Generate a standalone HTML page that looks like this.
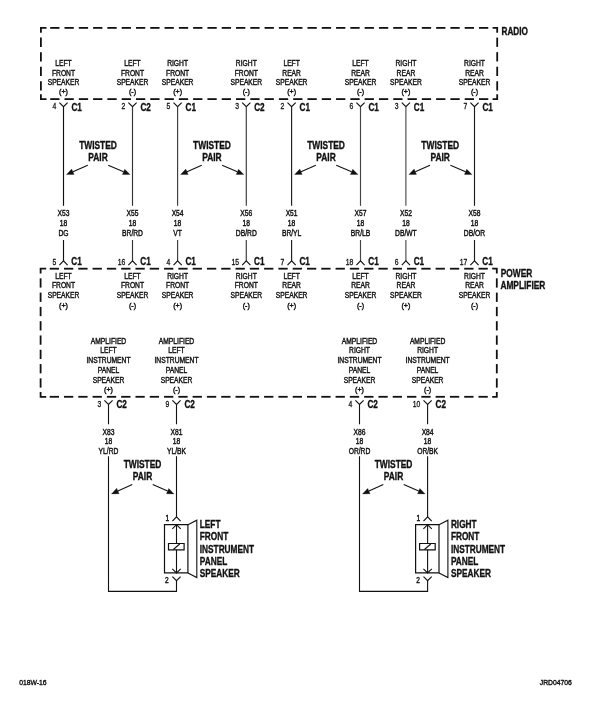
<!DOCTYPE html>
<html><head><meta charset="utf-8"><title>Wiring diagram</title>
<style>
html,body{margin:0;padding:0;background:#fff;}
body{width:609px;height:709px;overflow:hidden;}
svg{display:block;will-change:transform;font-family:"Liberation Sans",sans-serif;}
</style></head><body>
<svg width="609" height="709" viewBox="0 0 609 709">
<rect width="609" height="709" fill="#ffffff"/>
<line x1="50.20" y1="27.90" x2="59.50" y2="27.90" stroke="#111" stroke-width="1.8"/>
<line x1="64.49" y1="27.90" x2="73.79" y2="27.90" stroke="#111" stroke-width="1.8"/>
<line x1="78.79" y1="27.90" x2="88.09" y2="27.90" stroke="#111" stroke-width="1.8"/>
<line x1="93.08" y1="27.90" x2="102.38" y2="27.90" stroke="#111" stroke-width="1.8"/>
<line x1="107.37" y1="27.90" x2="116.67" y2="27.90" stroke="#111" stroke-width="1.8"/>
<line x1="121.67" y1="27.90" x2="130.97" y2="27.90" stroke="#111" stroke-width="1.8"/>
<line x1="135.96" y1="27.90" x2="145.26" y2="27.90" stroke="#111" stroke-width="1.8"/>
<line x1="150.25" y1="27.90" x2="159.55" y2="27.90" stroke="#111" stroke-width="1.8"/>
<line x1="164.54" y1="27.90" x2="173.84" y2="27.90" stroke="#111" stroke-width="1.8"/>
<line x1="178.84" y1="27.90" x2="188.14" y2="27.90" stroke="#111" stroke-width="1.8"/>
<line x1="193.13" y1="27.90" x2="202.43" y2="27.90" stroke="#111" stroke-width="1.8"/>
<line x1="207.42" y1="27.90" x2="216.72" y2="27.90" stroke="#111" stroke-width="1.8"/>
<line x1="221.72" y1="27.90" x2="231.02" y2="27.90" stroke="#111" stroke-width="1.8"/>
<line x1="236.01" y1="27.90" x2="245.31" y2="27.90" stroke="#111" stroke-width="1.8"/>
<line x1="250.30" y1="27.90" x2="259.60" y2="27.90" stroke="#111" stroke-width="1.8"/>
<line x1="264.59" y1="27.90" x2="273.89" y2="27.90" stroke="#111" stroke-width="1.8"/>
<line x1="278.89" y1="27.90" x2="288.19" y2="27.90" stroke="#111" stroke-width="1.8"/>
<line x1="293.18" y1="27.90" x2="302.48" y2="27.90" stroke="#111" stroke-width="1.8"/>
<line x1="307.47" y1="27.90" x2="316.77" y2="27.90" stroke="#111" stroke-width="1.8"/>
<line x1="321.77" y1="27.90" x2="331.07" y2="27.90" stroke="#111" stroke-width="1.8"/>
<line x1="336.06" y1="27.90" x2="345.36" y2="27.90" stroke="#111" stroke-width="1.8"/>
<line x1="350.35" y1="27.90" x2="359.65" y2="27.90" stroke="#111" stroke-width="1.8"/>
<line x1="364.65" y1="27.90" x2="373.95" y2="27.90" stroke="#111" stroke-width="1.8"/>
<line x1="378.94" y1="27.90" x2="388.24" y2="27.90" stroke="#111" stroke-width="1.8"/>
<line x1="393.23" y1="27.90" x2="402.53" y2="27.90" stroke="#111" stroke-width="1.8"/>
<line x1="407.52" y1="27.90" x2="416.82" y2="27.90" stroke="#111" stroke-width="1.8"/>
<line x1="421.82" y1="27.90" x2="431.12" y2="27.90" stroke="#111" stroke-width="1.8"/>
<line x1="436.11" y1="27.90" x2="445.41" y2="27.90" stroke="#111" stroke-width="1.8"/>
<line x1="450.40" y1="27.90" x2="459.70" y2="27.90" stroke="#111" stroke-width="1.8"/>
<line x1="464.70" y1="27.90" x2="474.00" y2="27.90" stroke="#111" stroke-width="1.8"/>
<line x1="478.99" y1="27.90" x2="488.29" y2="27.90" stroke="#111" stroke-width="1.8"/>
<line x1="50.20" y1="99.10" x2="59.50" y2="99.10" stroke="#111" stroke-width="1.8"/>
<line x1="64.49" y1="99.10" x2="73.79" y2="99.10" stroke="#111" stroke-width="1.8"/>
<line x1="78.79" y1="99.10" x2="88.09" y2="99.10" stroke="#111" stroke-width="1.8"/>
<line x1="93.08" y1="99.10" x2="102.38" y2="99.10" stroke="#111" stroke-width="1.8"/>
<line x1="107.37" y1="99.10" x2="116.67" y2="99.10" stroke="#111" stroke-width="1.8"/>
<line x1="121.67" y1="99.10" x2="130.97" y2="99.10" stroke="#111" stroke-width="1.8"/>
<line x1="135.96" y1="99.10" x2="145.26" y2="99.10" stroke="#111" stroke-width="1.8"/>
<line x1="150.25" y1="99.10" x2="159.55" y2="99.10" stroke="#111" stroke-width="1.8"/>
<line x1="164.54" y1="99.10" x2="173.84" y2="99.10" stroke="#111" stroke-width="1.8"/>
<line x1="178.84" y1="99.10" x2="188.14" y2="99.10" stroke="#111" stroke-width="1.8"/>
<line x1="193.13" y1="99.10" x2="202.43" y2="99.10" stroke="#111" stroke-width="1.8"/>
<line x1="207.42" y1="99.10" x2="216.72" y2="99.10" stroke="#111" stroke-width="1.8"/>
<line x1="221.72" y1="99.10" x2="231.02" y2="99.10" stroke="#111" stroke-width="1.8"/>
<line x1="236.01" y1="99.10" x2="245.31" y2="99.10" stroke="#111" stroke-width="1.8"/>
<line x1="250.30" y1="99.10" x2="259.60" y2="99.10" stroke="#111" stroke-width="1.8"/>
<line x1="264.59" y1="99.10" x2="273.89" y2="99.10" stroke="#111" stroke-width="1.8"/>
<line x1="278.89" y1="99.10" x2="288.19" y2="99.10" stroke="#111" stroke-width="1.8"/>
<line x1="293.18" y1="99.10" x2="302.48" y2="99.10" stroke="#111" stroke-width="1.8"/>
<line x1="307.47" y1="99.10" x2="316.77" y2="99.10" stroke="#111" stroke-width="1.8"/>
<line x1="321.77" y1="99.10" x2="331.07" y2="99.10" stroke="#111" stroke-width="1.8"/>
<line x1="336.06" y1="99.10" x2="345.36" y2="99.10" stroke="#111" stroke-width="1.8"/>
<line x1="350.35" y1="99.10" x2="359.65" y2="99.10" stroke="#111" stroke-width="1.8"/>
<line x1="364.65" y1="99.10" x2="373.95" y2="99.10" stroke="#111" stroke-width="1.8"/>
<line x1="378.94" y1="99.10" x2="388.24" y2="99.10" stroke="#111" stroke-width="1.8"/>
<line x1="393.23" y1="99.10" x2="402.53" y2="99.10" stroke="#111" stroke-width="1.8"/>
<line x1="407.52" y1="99.10" x2="416.82" y2="99.10" stroke="#111" stroke-width="1.8"/>
<line x1="421.82" y1="99.10" x2="431.12" y2="99.10" stroke="#111" stroke-width="1.8"/>
<line x1="436.11" y1="99.10" x2="445.41" y2="99.10" stroke="#111" stroke-width="1.8"/>
<line x1="450.40" y1="99.10" x2="459.70" y2="99.10" stroke="#111" stroke-width="1.8"/>
<line x1="464.70" y1="99.10" x2="474.00" y2="99.10" stroke="#111" stroke-width="1.8"/>
<line x1="478.99" y1="99.10" x2="488.29" y2="99.10" stroke="#111" stroke-width="1.8"/>
<line x1="40.90" y1="37.60" x2="40.90" y2="46.90" stroke="#111" stroke-width="1.8"/>
<line x1="40.90" y1="52.15" x2="40.90" y2="61.45" stroke="#111" stroke-width="1.8"/>
<line x1="40.90" y1="66.70" x2="40.90" y2="76.00" stroke="#111" stroke-width="1.8"/>
<line x1="40.90" y1="81.25" x2="40.90" y2="90.55" stroke="#111" stroke-width="1.8"/>
<line x1="497.20" y1="37.60" x2="497.20" y2="46.90" stroke="#111" stroke-width="1.8"/>
<line x1="497.20" y1="52.15" x2="497.20" y2="61.45" stroke="#111" stroke-width="1.8"/>
<line x1="497.20" y1="66.70" x2="497.20" y2="76.00" stroke="#111" stroke-width="1.8"/>
<line x1="497.20" y1="81.25" x2="497.20" y2="90.55" stroke="#111" stroke-width="1.8"/>
<path d="M40.9,32.699999999999996 V27.9 H46.5" stroke="#111" stroke-width="1.8" fill="none" stroke-linejoin="miter"/>
<path d="M497.2,32.699999999999996 V27.9 H492.59999999999997" stroke="#111" stroke-width="1.8" fill="none" />
<path d="M40.9,94.3 V99.1 H46.5" stroke="#111" stroke-width="1.8" fill="none" />
<path d="M497.2,94.3 V99.1 H492.59999999999997" stroke="#111" stroke-width="1.8" fill="none" />
<line x1="49.70" y1="268.70" x2="59.00" y2="268.70" stroke="#111" stroke-width="1.8"/>
<line x1="63.99" y1="268.70" x2="73.29" y2="268.70" stroke="#111" stroke-width="1.8"/>
<line x1="78.29" y1="268.70" x2="87.59" y2="268.70" stroke="#111" stroke-width="1.8"/>
<line x1="92.58" y1="268.70" x2="101.88" y2="268.70" stroke="#111" stroke-width="1.8"/>
<line x1="106.87" y1="268.70" x2="116.17" y2="268.70" stroke="#111" stroke-width="1.8"/>
<line x1="121.17" y1="268.70" x2="130.47" y2="268.70" stroke="#111" stroke-width="1.8"/>
<line x1="135.46" y1="268.70" x2="144.76" y2="268.70" stroke="#111" stroke-width="1.8"/>
<line x1="149.75" y1="268.70" x2="159.05" y2="268.70" stroke="#111" stroke-width="1.8"/>
<line x1="164.04" y1="268.70" x2="173.34" y2="268.70" stroke="#111" stroke-width="1.8"/>
<line x1="178.34" y1="268.70" x2="187.64" y2="268.70" stroke="#111" stroke-width="1.8"/>
<line x1="192.63" y1="268.70" x2="201.93" y2="268.70" stroke="#111" stroke-width="1.8"/>
<line x1="206.92" y1="268.70" x2="216.22" y2="268.70" stroke="#111" stroke-width="1.8"/>
<line x1="221.22" y1="268.70" x2="230.52" y2="268.70" stroke="#111" stroke-width="1.8"/>
<line x1="235.51" y1="268.70" x2="244.81" y2="268.70" stroke="#111" stroke-width="1.8"/>
<line x1="249.80" y1="268.70" x2="259.10" y2="268.70" stroke="#111" stroke-width="1.8"/>
<line x1="264.09" y1="268.70" x2="273.39" y2="268.70" stroke="#111" stroke-width="1.8"/>
<line x1="278.39" y1="268.70" x2="287.69" y2="268.70" stroke="#111" stroke-width="1.8"/>
<line x1="292.68" y1="268.70" x2="301.98" y2="268.70" stroke="#111" stroke-width="1.8"/>
<line x1="306.97" y1="268.70" x2="316.27" y2="268.70" stroke="#111" stroke-width="1.8"/>
<line x1="321.27" y1="268.70" x2="330.57" y2="268.70" stroke="#111" stroke-width="1.8"/>
<line x1="335.56" y1="268.70" x2="344.86" y2="268.70" stroke="#111" stroke-width="1.8"/>
<line x1="349.85" y1="268.70" x2="359.15" y2="268.70" stroke="#111" stroke-width="1.8"/>
<line x1="364.15" y1="268.70" x2="373.45" y2="268.70" stroke="#111" stroke-width="1.8"/>
<line x1="378.44" y1="268.70" x2="387.74" y2="268.70" stroke="#111" stroke-width="1.8"/>
<line x1="392.73" y1="268.70" x2="402.03" y2="268.70" stroke="#111" stroke-width="1.8"/>
<line x1="407.02" y1="268.70" x2="416.32" y2="268.70" stroke="#111" stroke-width="1.8"/>
<line x1="421.32" y1="268.70" x2="430.62" y2="268.70" stroke="#111" stroke-width="1.8"/>
<line x1="435.61" y1="268.70" x2="444.91" y2="268.70" stroke="#111" stroke-width="1.8"/>
<line x1="449.90" y1="268.70" x2="459.20" y2="268.70" stroke="#111" stroke-width="1.8"/>
<line x1="464.20" y1="268.70" x2="473.50" y2="268.70" stroke="#111" stroke-width="1.8"/>
<line x1="478.49" y1="268.70" x2="487.79" y2="268.70" stroke="#111" stroke-width="1.8"/>
<line x1="49.70" y1="396.80" x2="59.00" y2="396.80" stroke="#111" stroke-width="1.8"/>
<line x1="63.99" y1="396.80" x2="73.29" y2="396.80" stroke="#111" stroke-width="1.8"/>
<line x1="78.29" y1="396.80" x2="87.59" y2="396.80" stroke="#111" stroke-width="1.8"/>
<line x1="92.58" y1="396.80" x2="101.88" y2="396.80" stroke="#111" stroke-width="1.8"/>
<line x1="106.87" y1="396.80" x2="116.17" y2="396.80" stroke="#111" stroke-width="1.8"/>
<line x1="121.17" y1="396.80" x2="130.47" y2="396.80" stroke="#111" stroke-width="1.8"/>
<line x1="135.46" y1="396.80" x2="144.76" y2="396.80" stroke="#111" stroke-width="1.8"/>
<line x1="149.75" y1="396.80" x2="159.05" y2="396.80" stroke="#111" stroke-width="1.8"/>
<line x1="164.04" y1="396.80" x2="173.34" y2="396.80" stroke="#111" stroke-width="1.8"/>
<line x1="178.34" y1="396.80" x2="187.64" y2="396.80" stroke="#111" stroke-width="1.8"/>
<line x1="192.63" y1="396.80" x2="201.93" y2="396.80" stroke="#111" stroke-width="1.8"/>
<line x1="206.92" y1="396.80" x2="216.22" y2="396.80" stroke="#111" stroke-width="1.8"/>
<line x1="221.22" y1="396.80" x2="230.52" y2="396.80" stroke="#111" stroke-width="1.8"/>
<line x1="235.51" y1="396.80" x2="244.81" y2="396.80" stroke="#111" stroke-width="1.8"/>
<line x1="249.80" y1="396.80" x2="259.10" y2="396.80" stroke="#111" stroke-width="1.8"/>
<line x1="264.09" y1="396.80" x2="273.39" y2="396.80" stroke="#111" stroke-width="1.8"/>
<line x1="278.39" y1="396.80" x2="287.69" y2="396.80" stroke="#111" stroke-width="1.8"/>
<line x1="292.68" y1="396.80" x2="301.98" y2="396.80" stroke="#111" stroke-width="1.8"/>
<line x1="306.97" y1="396.80" x2="316.27" y2="396.80" stroke="#111" stroke-width="1.8"/>
<line x1="321.27" y1="396.80" x2="330.57" y2="396.80" stroke="#111" stroke-width="1.8"/>
<line x1="335.56" y1="396.80" x2="344.86" y2="396.80" stroke="#111" stroke-width="1.8"/>
<line x1="349.85" y1="396.80" x2="359.15" y2="396.80" stroke="#111" stroke-width="1.8"/>
<line x1="364.15" y1="396.80" x2="373.45" y2="396.80" stroke="#111" stroke-width="1.8"/>
<line x1="378.44" y1="396.80" x2="387.74" y2="396.80" stroke="#111" stroke-width="1.8"/>
<line x1="392.73" y1="396.80" x2="402.03" y2="396.80" stroke="#111" stroke-width="1.8"/>
<line x1="407.02" y1="396.80" x2="416.32" y2="396.80" stroke="#111" stroke-width="1.8"/>
<line x1="421.32" y1="396.80" x2="430.62" y2="396.80" stroke="#111" stroke-width="1.8"/>
<line x1="435.61" y1="396.80" x2="444.91" y2="396.80" stroke="#111" stroke-width="1.8"/>
<line x1="449.90" y1="396.80" x2="459.20" y2="396.80" stroke="#111" stroke-width="1.8"/>
<line x1="464.20" y1="396.80" x2="473.50" y2="396.80" stroke="#111" stroke-width="1.8"/>
<line x1="478.49" y1="396.80" x2="487.79" y2="396.80" stroke="#111" stroke-width="1.8"/>
<line x1="40.60" y1="278.30" x2="40.60" y2="287.60" stroke="#111" stroke-width="1.8"/>
<line x1="40.60" y1="292.59" x2="40.60" y2="301.89" stroke="#111" stroke-width="1.8"/>
<line x1="40.60" y1="306.88" x2="40.60" y2="316.18" stroke="#111" stroke-width="1.8"/>
<line x1="40.60" y1="321.17" x2="40.60" y2="330.47" stroke="#111" stroke-width="1.8"/>
<line x1="40.60" y1="335.46" x2="40.60" y2="344.76" stroke="#111" stroke-width="1.8"/>
<line x1="40.60" y1="349.75" x2="40.60" y2="359.05" stroke="#111" stroke-width="1.8"/>
<line x1="40.60" y1="364.04" x2="40.60" y2="373.34" stroke="#111" stroke-width="1.8"/>
<line x1="40.60" y1="378.33" x2="40.60" y2="387.63" stroke="#111" stroke-width="1.8"/>
<line x1="496.80" y1="278.30" x2="496.80" y2="287.60" stroke="#111" stroke-width="1.8"/>
<line x1="496.80" y1="292.59" x2="496.80" y2="301.89" stroke="#111" stroke-width="1.8"/>
<line x1="496.80" y1="306.88" x2="496.80" y2="316.18" stroke="#111" stroke-width="1.8"/>
<line x1="496.80" y1="321.17" x2="496.80" y2="330.47" stroke="#111" stroke-width="1.8"/>
<line x1="496.80" y1="335.46" x2="496.80" y2="344.76" stroke="#111" stroke-width="1.8"/>
<line x1="496.80" y1="349.75" x2="496.80" y2="359.05" stroke="#111" stroke-width="1.8"/>
<line x1="496.80" y1="364.04" x2="496.80" y2="373.34" stroke="#111" stroke-width="1.8"/>
<line x1="496.80" y1="378.33" x2="496.80" y2="387.63" stroke="#111" stroke-width="1.8"/>
<path d="M40.6,273.5 V268.7 H46.2" stroke="#111" stroke-width="1.8" fill="none" stroke-linejoin="miter"/>
<path d="M496.8,273.5 V268.7 H492.2" stroke="#111" stroke-width="1.8" fill="none" />
<path d="M40.6,392.0 V396.8 H46.2" stroke="#111" stroke-width="1.8" fill="none" />
<path d="M496.8,392.0 V396.8 H492.2" stroke="#111" stroke-width="1.8" fill="none" />
<text transform="translate(501.50,35.00) scale(0.795,1)" font-size="10.3" text-anchor="start" font-weight="bold" fill="#111" stroke="#111" stroke-width="0.34">RADIO</text>
<text transform="translate(500.80,276.70) scale(0.81,1)" font-size="10.3" text-anchor="start" font-weight="bold" fill="#111" stroke="#111" stroke-width="0.34">POWER</text>
<text transform="translate(500.40,288.90) scale(0.81,1)" font-size="10.3" text-anchor="start" font-weight="bold" fill="#111" stroke="#111" stroke-width="0.34">AMPLIFIER</text>
<text transform="translate(63.50,66.00) scale(0.8,1)" font-size="8.4" text-anchor="middle" fill="#111" stroke="#111" stroke-width="0.42">LEFT</text>
<text transform="translate(63.50,75.50) scale(0.8,1)" font-size="8.4" text-anchor="middle" fill="#111" stroke="#111" stroke-width="0.42">FRONT</text>
<text transform="translate(63.50,85.10) scale(0.8,1)" font-size="8.4" text-anchor="middle" fill="#111" stroke="#111" stroke-width="0.42">SPEAKER</text>
<text transform="translate(63.50,94.00) scale(0.92,1)" font-size="7.8" text-anchor="middle" fill="#111" stroke="#111" stroke-width="0.42">(+)</text>
<path d="M59.4,102.6 L63.5,106.6 L67.6,102.6" stroke="#111" stroke-width="1.15" fill="none" />
<line x1="63.50" y1="106.60" x2="63.50" y2="205.80" stroke="#111" stroke-width="1.15"/>
<text transform="translate(56.20,108.90) scale(0.8,1)" font-size="8.5" text-anchor="end" fill="#111" stroke="#111" stroke-width="0.3">4</text>
<text transform="translate(71.40,110.80) scale(0.795,1)" font-size="10.3" text-anchor="start" font-weight="bold" fill="#111" stroke="#111" stroke-width="0.34">C1</text>
<text transform="translate(63.50,215.80) scale(0.8,1)" font-size="8.4" text-anchor="middle" fill="#111" stroke="#111" stroke-width="0.42">X53</text>
<text transform="translate(63.50,225.80) scale(0.8,1)" font-size="8.4" text-anchor="middle" fill="#111" stroke="#111" stroke-width="0.42">18</text>
<text transform="translate(63.50,235.70) scale(0.8,1)" font-size="8.4" text-anchor="middle" fill="#111" stroke="#111" stroke-width="0.42">DG</text>
<line x1="63.50" y1="240.00" x2="63.50" y2="260.90" stroke="#111" stroke-width="1.15"/>
<path d="M59.4,265.09999999999997 L63.5,260.9 L67.6,265.09999999999997" stroke="#111" stroke-width="1.15" fill="none" />
<text transform="translate(56.20,264.70) scale(0.8,1)" font-size="8.5" text-anchor="end" fill="#111" stroke="#111" stroke-width="0.3">5</text>
<text transform="translate(71.30,264.90) scale(0.795,1)" font-size="10.3" text-anchor="start" font-weight="bold" fill="#111" stroke="#111" stroke-width="0.34">C1</text>
<text transform="translate(63.50,278.50) scale(0.8,1)" font-size="8.4" text-anchor="middle" fill="#111" stroke="#111" stroke-width="0.42">LEFT</text>
<text transform="translate(63.50,288.00) scale(0.8,1)" font-size="8.4" text-anchor="middle" fill="#111" stroke="#111" stroke-width="0.42">FRONT</text>
<text transform="translate(63.50,297.60) scale(0.8,1)" font-size="8.4" text-anchor="middle" fill="#111" stroke="#111" stroke-width="0.42">SPEAKER</text>
<text transform="translate(63.50,308.00) scale(0.92,1)" font-size="7.8" text-anchor="middle" fill="#111" stroke="#111" stroke-width="0.42">(+)</text>
<text transform="translate(132.50,66.00) scale(0.8,1)" font-size="8.4" text-anchor="middle" fill="#111" stroke="#111" stroke-width="0.42">LEFT</text>
<text transform="translate(132.50,75.50) scale(0.8,1)" font-size="8.4" text-anchor="middle" fill="#111" stroke="#111" stroke-width="0.42">FRONT</text>
<text transform="translate(132.50,85.10) scale(0.8,1)" font-size="8.4" text-anchor="middle" fill="#111" stroke="#111" stroke-width="0.42">SPEAKER</text>
<text transform="translate(132.50,94.00) scale(0.92,1)" font-size="7.8" text-anchor="middle" fill="#111" stroke="#111" stroke-width="0.42">(-)</text>
<path d="M128.4,102.6 L132.5,106.6 L136.6,102.6" stroke="#111" stroke-width="1.15" fill="none" />
<line x1="132.50" y1="106.60" x2="132.50" y2="205.80" stroke="#333" stroke-width="1.15"/>
<text transform="translate(125.20,108.90) scale(0.8,1)" font-size="8.5" text-anchor="end" fill="#111" stroke="#111" stroke-width="0.3">2</text>
<text transform="translate(140.40,110.80) scale(0.795,1)" font-size="10.3" text-anchor="start" font-weight="bold" fill="#111" stroke="#111" stroke-width="0.34">C2</text>
<text transform="translate(132.50,215.80) scale(0.8,1)" font-size="8.4" text-anchor="middle" fill="#111" stroke="#111" stroke-width="0.42">X55</text>
<text transform="translate(132.50,225.80) scale(0.8,1)" font-size="8.4" text-anchor="middle" fill="#111" stroke="#111" stroke-width="0.42">18</text>
<text transform="translate(132.50,235.70) scale(0.8,1)" font-size="8.4" text-anchor="middle" fill="#111" stroke="#111" stroke-width="0.42">BR/RD</text>
<line x1="132.50" y1="240.00" x2="132.50" y2="260.90" stroke="#333" stroke-width="1.15"/>
<path d="M128.4,265.09999999999997 L132.5,260.9 L136.6,265.09999999999997" stroke="#111" stroke-width="1.15" fill="none" />
<text transform="translate(125.20,264.70) scale(0.8,1)" font-size="8.5" text-anchor="end" fill="#111" stroke="#111" stroke-width="0.3">16</text>
<text transform="translate(140.30,264.90) scale(0.795,1)" font-size="10.3" text-anchor="start" font-weight="bold" fill="#111" stroke="#111" stroke-width="0.34">C1</text>
<text transform="translate(132.50,278.50) scale(0.8,1)" font-size="8.4" text-anchor="middle" fill="#111" stroke="#111" stroke-width="0.42">LEFT</text>
<text transform="translate(132.50,288.00) scale(0.8,1)" font-size="8.4" text-anchor="middle" fill="#111" stroke="#111" stroke-width="0.42">FRONT</text>
<text transform="translate(132.50,297.60) scale(0.8,1)" font-size="8.4" text-anchor="middle" fill="#111" stroke="#111" stroke-width="0.42">SPEAKER</text>
<text transform="translate(132.50,308.00) scale(0.92,1)" font-size="7.8" text-anchor="middle" fill="#111" stroke="#111" stroke-width="0.42">(-)</text>
<text transform="translate(177.60,66.00) scale(0.8,1)" font-size="8.4" text-anchor="middle" fill="#111" stroke="#111" stroke-width="0.42">RIGHT</text>
<text transform="translate(177.60,75.50) scale(0.8,1)" font-size="8.4" text-anchor="middle" fill="#111" stroke="#111" stroke-width="0.42">FRONT</text>
<text transform="translate(177.60,85.10) scale(0.8,1)" font-size="8.4" text-anchor="middle" fill="#111" stroke="#111" stroke-width="0.42">SPEAKER</text>
<text transform="translate(177.60,94.00) scale(0.92,1)" font-size="7.8" text-anchor="middle" fill="#111" stroke="#111" stroke-width="0.42">(+)</text>
<path d="M173.5,102.6 L177.6,106.6 L181.7,102.6" stroke="#111" stroke-width="1.15" fill="none" />
<line x1="177.60" y1="106.60" x2="177.60" y2="205.80" stroke="#3a3a3a" stroke-width="1.15"/>
<text transform="translate(170.30,108.90) scale(0.8,1)" font-size="8.5" text-anchor="end" fill="#111" stroke="#111" stroke-width="0.3">5</text>
<text transform="translate(185.50,110.80) scale(0.795,1)" font-size="10.3" text-anchor="start" font-weight="bold" fill="#111" stroke="#111" stroke-width="0.34">C1</text>
<text transform="translate(177.60,215.80) scale(0.8,1)" font-size="8.4" text-anchor="middle" fill="#111" stroke="#111" stroke-width="0.42">X54</text>
<text transform="translate(177.60,225.80) scale(0.8,1)" font-size="8.4" text-anchor="middle" fill="#111" stroke="#111" stroke-width="0.42">18</text>
<text transform="translate(177.60,235.70) scale(0.8,1)" font-size="8.4" text-anchor="middle" fill="#111" stroke="#111" stroke-width="0.42">VT</text>
<line x1="177.60" y1="240.00" x2="177.60" y2="260.90" stroke="#3a3a3a" stroke-width="1.15"/>
<path d="M173.5,265.09999999999997 L177.6,260.9 L181.7,265.09999999999997" stroke="#111" stroke-width="1.15" fill="none" />
<text transform="translate(170.30,264.70) scale(0.8,1)" font-size="8.5" text-anchor="end" fill="#111" stroke="#111" stroke-width="0.3">4</text>
<text transform="translate(185.40,264.90) scale(0.795,1)" font-size="10.3" text-anchor="start" font-weight="bold" fill="#111" stroke="#111" stroke-width="0.34">C1</text>
<text transform="translate(177.60,278.50) scale(0.8,1)" font-size="8.4" text-anchor="middle" fill="#111" stroke="#111" stroke-width="0.42">RIGHT</text>
<text transform="translate(177.60,288.00) scale(0.8,1)" font-size="8.4" text-anchor="middle" fill="#111" stroke="#111" stroke-width="0.42">FRONT</text>
<text transform="translate(177.60,297.60) scale(0.8,1)" font-size="8.4" text-anchor="middle" fill="#111" stroke="#111" stroke-width="0.42">SPEAKER</text>
<text transform="translate(177.60,308.00) scale(0.92,1)" font-size="7.8" text-anchor="middle" fill="#111" stroke="#111" stroke-width="0.42">(+)</text>
<text transform="translate(246.30,66.00) scale(0.8,1)" font-size="8.4" text-anchor="middle" fill="#111" stroke="#111" stroke-width="0.42">RIGHT</text>
<text transform="translate(246.30,75.50) scale(0.8,1)" font-size="8.4" text-anchor="middle" fill="#111" stroke="#111" stroke-width="0.42">FRONT</text>
<text transform="translate(246.30,85.10) scale(0.8,1)" font-size="8.4" text-anchor="middle" fill="#111" stroke="#111" stroke-width="0.42">SPEAKER</text>
<text transform="translate(246.30,94.00) scale(0.92,1)" font-size="7.8" text-anchor="middle" fill="#111" stroke="#111" stroke-width="0.42">(-)</text>
<path d="M242.20000000000002,102.6 L246.3,106.6 L250.4,102.6" stroke="#111" stroke-width="1.15" fill="none" />
<line x1="246.30" y1="106.60" x2="246.30" y2="205.80" stroke="#3a3a3a" stroke-width="1.15"/>
<text transform="translate(239.00,108.90) scale(0.8,1)" font-size="8.5" text-anchor="end" fill="#111" stroke="#111" stroke-width="0.3">3</text>
<text transform="translate(254.20,110.80) scale(0.795,1)" font-size="10.3" text-anchor="start" font-weight="bold" fill="#111" stroke="#111" stroke-width="0.34">C2</text>
<text transform="translate(246.30,215.80) scale(0.8,1)" font-size="8.4" text-anchor="middle" fill="#111" stroke="#111" stroke-width="0.42">X56</text>
<text transform="translate(246.30,225.80) scale(0.8,1)" font-size="8.4" text-anchor="middle" fill="#111" stroke="#111" stroke-width="0.42">18</text>
<text transform="translate(246.30,235.70) scale(0.8,1)" font-size="8.4" text-anchor="middle" fill="#111" stroke="#111" stroke-width="0.42">DB/RD</text>
<line x1="246.30" y1="240.00" x2="246.30" y2="260.90" stroke="#3a3a3a" stroke-width="1.15"/>
<path d="M242.20000000000002,265.09999999999997 L246.3,260.9 L250.4,265.09999999999997" stroke="#111" stroke-width="1.15" fill="none" />
<text transform="translate(239.00,264.70) scale(0.8,1)" font-size="8.5" text-anchor="end" fill="#111" stroke="#111" stroke-width="0.3">15</text>
<text transform="translate(254.10,264.90) scale(0.795,1)" font-size="10.3" text-anchor="start" font-weight="bold" fill="#111" stroke="#111" stroke-width="0.34">C1</text>
<text transform="translate(246.30,278.50) scale(0.8,1)" font-size="8.4" text-anchor="middle" fill="#111" stroke="#111" stroke-width="0.42">RIGHT</text>
<text transform="translate(246.30,288.00) scale(0.8,1)" font-size="8.4" text-anchor="middle" fill="#111" stroke="#111" stroke-width="0.42">FRONT</text>
<text transform="translate(246.30,297.60) scale(0.8,1)" font-size="8.4" text-anchor="middle" fill="#111" stroke="#111" stroke-width="0.42">SPEAKER</text>
<text transform="translate(246.30,308.00) scale(0.92,1)" font-size="7.8" text-anchor="middle" fill="#111" stroke="#111" stroke-width="0.42">(-)</text>
<text transform="translate(291.60,66.00) scale(0.8,1)" font-size="8.4" text-anchor="middle" fill="#111" stroke="#111" stroke-width="0.42">LEFT</text>
<text transform="translate(291.60,75.50) scale(0.8,1)" font-size="8.4" text-anchor="middle" fill="#111" stroke="#111" stroke-width="0.42">REAR</text>
<text transform="translate(291.60,85.10) scale(0.8,1)" font-size="8.4" text-anchor="middle" fill="#111" stroke="#111" stroke-width="0.42">SPEAKER</text>
<text transform="translate(291.60,94.00) scale(0.92,1)" font-size="7.8" text-anchor="middle" fill="#111" stroke="#111" stroke-width="0.42">(+)</text>
<path d="M287.5,102.6 L291.6,106.6 L295.70000000000005,102.6" stroke="#111" stroke-width="1.15" fill="none" />
<line x1="291.60" y1="106.60" x2="291.60" y2="205.80" stroke="#1c1c1c" stroke-width="1.15"/>
<text transform="translate(284.30,108.90) scale(0.8,1)" font-size="8.5" text-anchor="end" fill="#111" stroke="#111" stroke-width="0.3">2</text>
<text transform="translate(299.50,110.80) scale(0.795,1)" font-size="10.3" text-anchor="start" font-weight="bold" fill="#111" stroke="#111" stroke-width="0.34">C1</text>
<text transform="translate(291.60,215.80) scale(0.8,1)" font-size="8.4" text-anchor="middle" fill="#111" stroke="#111" stroke-width="0.42">X51</text>
<text transform="translate(291.60,225.80) scale(0.8,1)" font-size="8.4" text-anchor="middle" fill="#111" stroke="#111" stroke-width="0.42">18</text>
<text transform="translate(291.60,235.70) scale(0.8,1)" font-size="8.4" text-anchor="middle" fill="#111" stroke="#111" stroke-width="0.42">BR/YL</text>
<line x1="291.60" y1="240.00" x2="291.60" y2="260.90" stroke="#1c1c1c" stroke-width="1.15"/>
<path d="M287.5,265.09999999999997 L291.6,260.9 L295.70000000000005,265.09999999999997" stroke="#111" stroke-width="1.15" fill="none" />
<text transform="translate(284.30,264.70) scale(0.8,1)" font-size="8.5" text-anchor="end" fill="#111" stroke="#111" stroke-width="0.3">7</text>
<text transform="translate(299.40,264.90) scale(0.795,1)" font-size="10.3" text-anchor="start" font-weight="bold" fill="#111" stroke="#111" stroke-width="0.34">C1</text>
<text transform="translate(291.60,278.50) scale(0.8,1)" font-size="8.4" text-anchor="middle" fill="#111" stroke="#111" stroke-width="0.42">LEFT</text>
<text transform="translate(291.60,288.00) scale(0.8,1)" font-size="8.4" text-anchor="middle" fill="#111" stroke="#111" stroke-width="0.42">REAR</text>
<text transform="translate(291.60,297.60) scale(0.8,1)" font-size="8.4" text-anchor="middle" fill="#111" stroke="#111" stroke-width="0.42">SPEAKER</text>
<text transform="translate(291.60,308.00) scale(0.92,1)" font-size="7.8" text-anchor="middle" fill="#111" stroke="#111" stroke-width="0.42">(+)</text>
<text transform="translate(360.50,66.00) scale(0.8,1)" font-size="8.4" text-anchor="middle" fill="#111" stroke="#111" stroke-width="0.42">LEFT</text>
<text transform="translate(360.50,75.50) scale(0.8,1)" font-size="8.4" text-anchor="middle" fill="#111" stroke="#111" stroke-width="0.42">REAR</text>
<text transform="translate(360.50,85.10) scale(0.8,1)" font-size="8.4" text-anchor="middle" fill="#111" stroke="#111" stroke-width="0.42">SPEAKER</text>
<text transform="translate(360.50,94.00) scale(0.92,1)" font-size="7.8" text-anchor="middle" fill="#111" stroke="#111" stroke-width="0.42">(-)</text>
<path d="M356.4,102.6 L360.5,106.6 L364.6,102.6" stroke="#111" stroke-width="1.15" fill="none" />
<line x1="360.50" y1="106.60" x2="360.50" y2="205.80" stroke="#444" stroke-width="1.15"/>
<text transform="translate(353.20,108.90) scale(0.8,1)" font-size="8.5" text-anchor="end" fill="#111" stroke="#111" stroke-width="0.3">6</text>
<text transform="translate(368.40,110.80) scale(0.795,1)" font-size="10.3" text-anchor="start" font-weight="bold" fill="#111" stroke="#111" stroke-width="0.34">C1</text>
<text transform="translate(360.50,215.80) scale(0.8,1)" font-size="8.4" text-anchor="middle" fill="#111" stroke="#111" stroke-width="0.42">X57</text>
<text transform="translate(360.50,225.80) scale(0.8,1)" font-size="8.4" text-anchor="middle" fill="#111" stroke="#111" stroke-width="0.42">18</text>
<text transform="translate(360.50,235.70) scale(0.8,1)" font-size="8.4" text-anchor="middle" fill="#111" stroke="#111" stroke-width="0.42">BR/LB</text>
<line x1="360.50" y1="240.00" x2="360.50" y2="260.90" stroke="#444" stroke-width="1.15"/>
<path d="M356.4,265.09999999999997 L360.5,260.9 L364.6,265.09999999999997" stroke="#111" stroke-width="1.15" fill="none" />
<text transform="translate(353.20,264.70) scale(0.8,1)" font-size="8.5" text-anchor="end" fill="#111" stroke="#111" stroke-width="0.3">18</text>
<text transform="translate(368.30,264.90) scale(0.795,1)" font-size="10.3" text-anchor="start" font-weight="bold" fill="#111" stroke="#111" stroke-width="0.34">C1</text>
<text transform="translate(360.50,278.50) scale(0.8,1)" font-size="8.4" text-anchor="middle" fill="#111" stroke="#111" stroke-width="0.42">LEFT</text>
<text transform="translate(360.50,288.00) scale(0.8,1)" font-size="8.4" text-anchor="middle" fill="#111" stroke="#111" stroke-width="0.42">REAR</text>
<text transform="translate(360.50,297.60) scale(0.8,1)" font-size="8.4" text-anchor="middle" fill="#111" stroke="#111" stroke-width="0.42">SPEAKER</text>
<text transform="translate(360.50,308.00) scale(0.92,1)" font-size="7.8" text-anchor="middle" fill="#111" stroke="#111" stroke-width="0.42">(-)</text>
<text transform="translate(405.90,66.00) scale(0.8,1)" font-size="8.4" text-anchor="middle" fill="#111" stroke="#111" stroke-width="0.42">RIGHT</text>
<text transform="translate(405.90,75.50) scale(0.8,1)" font-size="8.4" text-anchor="middle" fill="#111" stroke="#111" stroke-width="0.42">REAR</text>
<text transform="translate(405.90,85.10) scale(0.8,1)" font-size="8.4" text-anchor="middle" fill="#111" stroke="#111" stroke-width="0.42">SPEAKER</text>
<text transform="translate(405.90,94.00) scale(0.92,1)" font-size="7.8" text-anchor="middle" fill="#111" stroke="#111" stroke-width="0.42">(+)</text>
<path d="M401.79999999999995,102.6 L405.9,106.6 L410.0,102.6" stroke="#111" stroke-width="1.15" fill="none" />
<line x1="405.90" y1="106.60" x2="405.90" y2="205.80" stroke="#4a4a4a" stroke-width="1.15"/>
<text transform="translate(398.60,108.90) scale(0.8,1)" font-size="8.5" text-anchor="end" fill="#111" stroke="#111" stroke-width="0.3">3</text>
<text transform="translate(413.80,110.80) scale(0.795,1)" font-size="10.3" text-anchor="start" font-weight="bold" fill="#111" stroke="#111" stroke-width="0.34">C1</text>
<text transform="translate(405.90,215.80) scale(0.8,1)" font-size="8.4" text-anchor="middle" fill="#111" stroke="#111" stroke-width="0.42">X52</text>
<text transform="translate(405.90,225.80) scale(0.8,1)" font-size="8.4" text-anchor="middle" fill="#111" stroke="#111" stroke-width="0.42">18</text>
<text transform="translate(405.90,235.70) scale(0.8,1)" font-size="8.4" text-anchor="middle" fill="#111" stroke="#111" stroke-width="0.42">DB/WT</text>
<line x1="405.90" y1="240.00" x2="405.90" y2="260.90" stroke="#4a4a4a" stroke-width="1.15"/>
<path d="M401.79999999999995,265.09999999999997 L405.9,260.9 L410.0,265.09999999999997" stroke="#111" stroke-width="1.15" fill="none" />
<text transform="translate(398.60,264.70) scale(0.8,1)" font-size="8.5" text-anchor="end" fill="#111" stroke="#111" stroke-width="0.3">6</text>
<text transform="translate(413.70,264.90) scale(0.795,1)" font-size="10.3" text-anchor="start" font-weight="bold" fill="#111" stroke="#111" stroke-width="0.34">C1</text>
<text transform="translate(405.90,278.50) scale(0.8,1)" font-size="8.4" text-anchor="middle" fill="#111" stroke="#111" stroke-width="0.42">RIGHT</text>
<text transform="translate(405.90,288.00) scale(0.8,1)" font-size="8.4" text-anchor="middle" fill="#111" stroke="#111" stroke-width="0.42">REAR</text>
<text transform="translate(405.90,297.60) scale(0.8,1)" font-size="8.4" text-anchor="middle" fill="#111" stroke="#111" stroke-width="0.42">SPEAKER</text>
<text transform="translate(405.90,308.00) scale(0.92,1)" font-size="7.8" text-anchor="middle" fill="#111" stroke="#111" stroke-width="0.42">(+)</text>
<text transform="translate(474.50,66.00) scale(0.8,1)" font-size="8.4" text-anchor="middle" fill="#111" stroke="#111" stroke-width="0.42">RIGHT</text>
<text transform="translate(474.50,75.50) scale(0.8,1)" font-size="8.4" text-anchor="middle" fill="#111" stroke="#111" stroke-width="0.42">REAR</text>
<text transform="translate(474.50,85.10) scale(0.8,1)" font-size="8.4" text-anchor="middle" fill="#111" stroke="#111" stroke-width="0.42">SPEAKER</text>
<text transform="translate(474.50,94.00) scale(0.92,1)" font-size="7.8" text-anchor="middle" fill="#111" stroke="#111" stroke-width="0.42">(-)</text>
<path d="M470.4,102.6 L474.5,106.6 L478.6,102.6" stroke="#111" stroke-width="1.15" fill="none" />
<line x1="474.50" y1="106.60" x2="474.50" y2="205.80" stroke="#1c1c1c" stroke-width="1.15"/>
<text transform="translate(467.20,108.90) scale(0.8,1)" font-size="8.5" text-anchor="end" fill="#111" stroke="#111" stroke-width="0.3">7</text>
<text transform="translate(482.40,110.80) scale(0.795,1)" font-size="10.3" text-anchor="start" font-weight="bold" fill="#111" stroke="#111" stroke-width="0.34">C1</text>
<text transform="translate(474.50,215.80) scale(0.8,1)" font-size="8.4" text-anchor="middle" fill="#111" stroke="#111" stroke-width="0.42">X58</text>
<text transform="translate(474.50,225.80) scale(0.8,1)" font-size="8.4" text-anchor="middle" fill="#111" stroke="#111" stroke-width="0.42">18</text>
<text transform="translate(474.50,235.70) scale(0.8,1)" font-size="8.4" text-anchor="middle" fill="#111" stroke="#111" stroke-width="0.42">DB/OR</text>
<line x1="474.50" y1="240.00" x2="474.50" y2="260.90" stroke="#1c1c1c" stroke-width="1.15"/>
<path d="M470.4,265.09999999999997 L474.5,260.9 L478.6,265.09999999999997" stroke="#111" stroke-width="1.15" fill="none" />
<text transform="translate(467.20,264.70) scale(0.8,1)" font-size="8.5" text-anchor="end" fill="#111" stroke="#111" stroke-width="0.3">17</text>
<text transform="translate(482.30,264.90) scale(0.795,1)" font-size="10.3" text-anchor="start" font-weight="bold" fill="#111" stroke="#111" stroke-width="0.34">C1</text>
<text transform="translate(474.50,278.50) scale(0.8,1)" font-size="8.4" text-anchor="middle" fill="#111" stroke="#111" stroke-width="0.42">RIGHT</text>
<text transform="translate(474.50,288.00) scale(0.8,1)" font-size="8.4" text-anchor="middle" fill="#111" stroke="#111" stroke-width="0.42">REAR</text>
<text transform="translate(474.50,297.60) scale(0.8,1)" font-size="8.4" text-anchor="middle" fill="#111" stroke="#111" stroke-width="0.42">SPEAKER</text>
<text transform="translate(474.50,308.00) scale(0.92,1)" font-size="7.8" text-anchor="middle" fill="#111" stroke="#111" stroke-width="0.42">(-)</text>
<text transform="translate(98.00,149.10) scale(0.815,1)" font-size="10.3" text-anchor="middle" font-weight="bold" fill="#111" stroke="#111" stroke-width="0.34">TWISTED</text>
<text transform="translate(98.00,160.90) scale(0.815,1)" font-size="10.3" text-anchor="middle" font-weight="bold" fill="#111" stroke="#111" stroke-width="0.34">PAIR</text>
<line x1="87.80" y1="165.20" x2="72.90" y2="171.77" stroke="#111" stroke-width="1.1"/>
<path d="M66.50,174.60 L71.73,169.12 L74.07,174.43 Z" stroke="#111" stroke-width="0.3" fill="#111" />
<line x1="108.20" y1="165.20" x2="123.57" y2="171.83" stroke="#111" stroke-width="1.1"/>
<path d="M130.00,174.60 L122.42,174.49 L124.72,169.17 Z" stroke="#111" stroke-width="0.3" fill="#111" />
<text transform="translate(211.95,149.10) scale(0.815,1)" font-size="10.3" text-anchor="middle" font-weight="bold" fill="#111" stroke="#111" stroke-width="0.34">TWISTED</text>
<text transform="translate(211.95,160.90) scale(0.815,1)" font-size="10.3" text-anchor="middle" font-weight="bold" fill="#111" stroke="#111" stroke-width="0.34">PAIR</text>
<line x1="201.75" y1="165.20" x2="187.00" y2="171.76" stroke="#111" stroke-width="1.1"/>
<path d="M180.60,174.60 L185.82,169.11 L188.17,174.41 Z" stroke="#111" stroke-width="0.3" fill="#111" />
<line x1="222.15" y1="165.20" x2="237.38" y2="171.81" stroke="#111" stroke-width="1.1"/>
<path d="M243.80,174.60 L236.22,174.47 L238.53,169.15 Z" stroke="#111" stroke-width="0.3" fill="#111" />
<text transform="translate(326.05,149.10) scale(0.815,1)" font-size="10.3" text-anchor="middle" font-weight="bold" fill="#111" stroke="#111" stroke-width="0.34">TWISTED</text>
<text transform="translate(326.05,160.90) scale(0.815,1)" font-size="10.3" text-anchor="middle" font-weight="bold" fill="#111" stroke="#111" stroke-width="0.34">PAIR</text>
<line x1="315.85" y1="165.20" x2="301.00" y2="171.77" stroke="#111" stroke-width="1.1"/>
<path d="M294.60,174.60 L299.83,169.12 L302.17,174.42 Z" stroke="#111" stroke-width="0.3" fill="#111" />
<line x1="336.25" y1="165.20" x2="351.57" y2="171.82" stroke="#111" stroke-width="1.1"/>
<path d="M358.00,174.60 L350.42,174.48 L352.72,169.16 Z" stroke="#111" stroke-width="0.3" fill="#111" />
<text transform="translate(440.20,149.10) scale(0.815,1)" font-size="10.3" text-anchor="middle" font-weight="bold" fill="#111" stroke="#111" stroke-width="0.34">TWISTED</text>
<text transform="translate(440.20,160.90) scale(0.815,1)" font-size="10.3" text-anchor="middle" font-weight="bold" fill="#111" stroke="#111" stroke-width="0.34">PAIR</text>
<line x1="430.00" y1="165.20" x2="415.29" y2="171.75" stroke="#111" stroke-width="1.1"/>
<path d="M408.90,174.60 L414.11,169.10 L416.47,174.40 Z" stroke="#111" stroke-width="0.3" fill="#111" />
<line x1="450.40" y1="165.20" x2="465.58" y2="171.81" stroke="#111" stroke-width="1.1"/>
<path d="M472.00,174.60 L464.42,174.47 L466.74,169.15 Z" stroke="#111" stroke-width="0.3" fill="#111" />
<text transform="translate(108.50,343.60) scale(0.8,1)" font-size="8.4" text-anchor="middle" fill="#111" stroke="#111" stroke-width="0.42">AMPLIFIED</text>
<text transform="translate(108.50,353.40) scale(0.8,1)" font-size="8.4" text-anchor="middle" fill="#111" stroke="#111" stroke-width="0.42">LEFT</text>
<text transform="translate(108.50,363.10) scale(0.8,1)" font-size="8.4" text-anchor="middle" fill="#111" stroke="#111" stroke-width="0.42">INSTRUMENT</text>
<text transform="translate(108.50,372.80) scale(0.8,1)" font-size="8.4" text-anchor="middle" fill="#111" stroke="#111" stroke-width="0.42">PANEL</text>
<text transform="translate(108.50,382.90) scale(0.8,1)" font-size="8.4" text-anchor="middle" fill="#111" stroke="#111" stroke-width="0.42">SPEAKER</text>
<text transform="translate(108.50,392.30) scale(0.92,1)" font-size="7.8" text-anchor="middle" fill="#111" stroke="#111" stroke-width="0.42">(+)</text>
<path d="M104.4,400.4 L108.5,404.4 L112.6,400.4" stroke="#111" stroke-width="1.15" fill="none" />
<line x1="108.50" y1="404.40" x2="108.50" y2="424.30" stroke="#111" stroke-width="1.1"/>
<text transform="translate(101.20,406.90) scale(0.8,1)" font-size="8.5" text-anchor="end" fill="#111" stroke="#111" stroke-width="0.3">3</text>
<text transform="translate(116.40,408.40) scale(0.795,1)" font-size="10.3" text-anchor="start" font-weight="bold" fill="#111" stroke="#111" stroke-width="0.34">C2</text>
<text transform="translate(108.50,434.50) scale(0.8,1)" font-size="8.4" text-anchor="middle" fill="#111" stroke="#111" stroke-width="0.42">X83</text>
<text transform="translate(108.50,444.20) scale(0.8,1)" font-size="8.4" text-anchor="middle" fill="#111" stroke="#111" stroke-width="0.42">18</text>
<text transform="translate(108.50,454.00) scale(0.8,1)" font-size="8.4" text-anchor="middle" fill="#111" stroke="#111" stroke-width="0.42">YL/RD</text>
<text transform="translate(176.50,343.60) scale(0.8,1)" font-size="8.4" text-anchor="middle" fill="#111" stroke="#111" stroke-width="0.42">AMPLIFIED</text>
<text transform="translate(176.50,353.40) scale(0.8,1)" font-size="8.4" text-anchor="middle" fill="#111" stroke="#111" stroke-width="0.42">LEFT</text>
<text transform="translate(176.50,363.10) scale(0.8,1)" font-size="8.4" text-anchor="middle" fill="#111" stroke="#111" stroke-width="0.42">INSTRUMENT</text>
<text transform="translate(176.50,372.80) scale(0.8,1)" font-size="8.4" text-anchor="middle" fill="#111" stroke="#111" stroke-width="0.42">PANEL</text>
<text transform="translate(176.50,382.90) scale(0.8,1)" font-size="8.4" text-anchor="middle" fill="#111" stroke="#111" stroke-width="0.42">SPEAKER</text>
<text transform="translate(176.50,392.30) scale(0.92,1)" font-size="7.8" text-anchor="middle" fill="#111" stroke="#111" stroke-width="0.42">(-)</text>
<path d="M172.4,400.4 L176.5,404.4 L180.6,400.4" stroke="#111" stroke-width="1.15" fill="none" />
<line x1="176.50" y1="404.40" x2="176.50" y2="424.30" stroke="#111" stroke-width="1.1"/>
<text transform="translate(169.20,406.90) scale(0.8,1)" font-size="8.5" text-anchor="end" fill="#111" stroke="#111" stroke-width="0.3">9</text>
<text transform="translate(184.40,408.40) scale(0.795,1)" font-size="10.3" text-anchor="start" font-weight="bold" fill="#111" stroke="#111" stroke-width="0.34">C2</text>
<text transform="translate(176.50,434.50) scale(0.8,1)" font-size="8.4" text-anchor="middle" fill="#111" stroke="#111" stroke-width="0.42">X81</text>
<text transform="translate(176.50,444.20) scale(0.8,1)" font-size="8.4" text-anchor="middle" fill="#111" stroke="#111" stroke-width="0.42">18</text>
<text transform="translate(176.50,454.00) scale(0.8,1)" font-size="8.4" text-anchor="middle" fill="#111" stroke="#111" stroke-width="0.42">YL/BK</text>
<text transform="translate(359.50,343.60) scale(0.8,1)" font-size="8.4" text-anchor="middle" fill="#111" stroke="#111" stroke-width="0.42">AMPLIFIED</text>
<text transform="translate(359.50,353.40) scale(0.8,1)" font-size="8.4" text-anchor="middle" fill="#111" stroke="#111" stroke-width="0.42">RIGHT</text>
<text transform="translate(359.50,363.10) scale(0.8,1)" font-size="8.4" text-anchor="middle" fill="#111" stroke="#111" stroke-width="0.42">INSTRUMENT</text>
<text transform="translate(359.50,372.80) scale(0.8,1)" font-size="8.4" text-anchor="middle" fill="#111" stroke="#111" stroke-width="0.42">PANEL</text>
<text transform="translate(359.50,382.90) scale(0.8,1)" font-size="8.4" text-anchor="middle" fill="#111" stroke="#111" stroke-width="0.42">SPEAKER</text>
<text transform="translate(359.50,392.30) scale(0.92,1)" font-size="7.8" text-anchor="middle" fill="#111" stroke="#111" stroke-width="0.42">(+)</text>
<path d="M355.4,400.4 L359.5,404.4 L363.6,400.4" stroke="#111" stroke-width="1.15" fill="none" />
<line x1="359.50" y1="404.40" x2="359.50" y2="424.30" stroke="#111" stroke-width="1.1"/>
<text transform="translate(352.20,406.90) scale(0.8,1)" font-size="8.5" text-anchor="end" fill="#111" stroke="#111" stroke-width="0.3">4</text>
<text transform="translate(367.40,408.40) scale(0.795,1)" font-size="10.3" text-anchor="start" font-weight="bold" fill="#111" stroke="#111" stroke-width="0.34">C2</text>
<text transform="translate(359.50,434.50) scale(0.8,1)" font-size="8.4" text-anchor="middle" fill="#111" stroke="#111" stroke-width="0.42">X86</text>
<text transform="translate(359.50,444.20) scale(0.8,1)" font-size="8.4" text-anchor="middle" fill="#111" stroke="#111" stroke-width="0.42">18</text>
<text transform="translate(359.50,454.00) scale(0.8,1)" font-size="8.4" text-anchor="middle" fill="#111" stroke="#111" stroke-width="0.42">OR/RD</text>
<text transform="translate(427.60,343.60) scale(0.8,1)" font-size="8.4" text-anchor="middle" fill="#111" stroke="#111" stroke-width="0.42">AMPLIFIED</text>
<text transform="translate(427.60,353.40) scale(0.8,1)" font-size="8.4" text-anchor="middle" fill="#111" stroke="#111" stroke-width="0.42">RIGHT</text>
<text transform="translate(427.60,363.10) scale(0.8,1)" font-size="8.4" text-anchor="middle" fill="#111" stroke="#111" stroke-width="0.42">INSTRUMENT</text>
<text transform="translate(427.60,372.80) scale(0.8,1)" font-size="8.4" text-anchor="middle" fill="#111" stroke="#111" stroke-width="0.42">PANEL</text>
<text transform="translate(427.60,382.90) scale(0.8,1)" font-size="8.4" text-anchor="middle" fill="#111" stroke="#111" stroke-width="0.42">SPEAKER</text>
<text transform="translate(427.60,392.30) scale(0.92,1)" font-size="7.8" text-anchor="middle" fill="#111" stroke="#111" stroke-width="0.42">(-)</text>
<path d="M423.5,400.4 L427.6,404.4 L431.70000000000005,400.4" stroke="#111" stroke-width="1.15" fill="none" />
<line x1="427.60" y1="404.40" x2="427.60" y2="424.30" stroke="#111" stroke-width="1.1"/>
<text transform="translate(420.30,406.90) scale(0.8,1)" font-size="8.5" text-anchor="end" fill="#111" stroke="#111" stroke-width="0.3">10</text>
<text transform="translate(435.50,408.40) scale(0.795,1)" font-size="10.3" text-anchor="start" font-weight="bold" fill="#111" stroke="#111" stroke-width="0.34">C2</text>
<text transform="translate(427.60,434.50) scale(0.8,1)" font-size="8.4" text-anchor="middle" fill="#111" stroke="#111" stroke-width="0.42">X84</text>
<text transform="translate(427.60,444.20) scale(0.8,1)" font-size="8.4" text-anchor="middle" fill="#111" stroke="#111" stroke-width="0.42">18</text>
<text transform="translate(427.60,454.00) scale(0.8,1)" font-size="8.4" text-anchor="middle" fill="#111" stroke="#111" stroke-width="0.42">OR/BK</text>
<path d="M108.5,456.2 V591.4 H176.5 V580.4" stroke="#111" stroke-width="1.1" fill="none" />
<line x1="176.50" y1="456.20" x2="176.50" y2="516.90" stroke="#111" stroke-width="1.1"/>
<path d="M172.4,521.1 L176.5,516.9 L180.6,521.1" stroke="#111" stroke-width="1.15" fill="none" />
<path d="M164.5,524.7 H187.9 V572.9 H164.5 Z" stroke="#111" stroke-width="1.2" fill="none" />
<path d="M187.9,524.7 L196.8,520.2 V577.6 L187.9,572.9" stroke="#111" stroke-width="1.1" fill="none" />
<path d="M172.3,528.9 L176.5,524.7 L180.7,528.9" stroke="#111" stroke-width="1.1" fill="none" />
<line x1="176.50" y1="524.70" x2="176.50" y2="543.50" stroke="#111" stroke-width="1.1"/>
<path d="M168.5,543.5 H184.1 V549.8 H168.5 Z" stroke="#111" stroke-width="1.2" fill="none" />
<line x1="173.30" y1="549.50" x2="179.70" y2="544.00" stroke="#111" stroke-width="1.1"/>
<line x1="176.50" y1="549.80" x2="176.50" y2="572.90" stroke="#111" stroke-width="1.1"/>
<path d="M172.3,568.9 L176.5,572.9 L180.7,568.9" stroke="#111" stroke-width="1.1" fill="none" />
<path d="M172.4,576.6 L176.5,580.6 L180.6,576.6" stroke="#111" stroke-width="1.15" fill="none" />
<text transform="translate(167.30,520.60) scale(0.8,1)" font-size="8.2" text-anchor="middle" fill="#111" stroke="#111" stroke-width="0.42">1</text>
<text transform="translate(166.90,582.50) scale(0.8,1)" font-size="8.2" text-anchor="middle" fill="#111" stroke="#111" stroke-width="0.42">2</text>
<text transform="translate(199.80,528.40) scale(0.805,1)" font-size="10.3" text-anchor="start" font-weight="bold" fill="#111" stroke="#111" stroke-width="0.34">LEFT</text>
<text transform="translate(199.80,540.45) scale(0.805,1)" font-size="10.3" text-anchor="start" font-weight="bold" fill="#111" stroke="#111" stroke-width="0.34">FRONT</text>
<text transform="translate(199.80,552.50) scale(0.805,1)" font-size="10.3" text-anchor="start" font-weight="bold" fill="#111" stroke="#111" stroke-width="0.34">INSTRUMENT</text>
<text transform="translate(199.80,564.55) scale(0.805,1)" font-size="10.3" text-anchor="start" font-weight="bold" fill="#111" stroke="#111" stroke-width="0.34">PANEL</text>
<text transform="translate(199.80,576.60) scale(0.805,1)" font-size="10.3" text-anchor="start" font-weight="bold" fill="#111" stroke="#111" stroke-width="0.34">SPEAKER</text>
<text transform="translate(142.50,468.40) scale(0.815,1)" font-size="10.3" text-anchor="middle" font-weight="bold" fill="#111" stroke="#111" stroke-width="0.34">TWISTED</text>
<text transform="translate(142.50,480.20) scale(0.815,1)" font-size="10.3" text-anchor="middle" font-weight="bold" fill="#111" stroke="#111" stroke-width="0.34">PAIR</text>
<line x1="132.30" y1="484.50" x2="117.88" y2="491.02" stroke="#111" stroke-width="1.1"/>
<path d="M111.50,493.90 L116.68,488.37 L119.07,493.66 Z" stroke="#111" stroke-width="0.3" fill="#111" />
<line x1="152.70" y1="484.50" x2="167.60" y2="491.07" stroke="#111" stroke-width="1.1"/>
<path d="M174.00,493.90 L166.43,493.73 L168.77,488.42 Z" stroke="#111" stroke-width="0.3" fill="#111" />
<path d="M359.5,456.2 V591.4 H427.6 V580.4" stroke="#111" stroke-width="1.1" fill="none" />
<line x1="427.60" y1="456.20" x2="427.60" y2="516.90" stroke="#111" stroke-width="1.1"/>
<path d="M423.5,521.1 L427.6,516.9 L431.70000000000005,521.1" stroke="#111" stroke-width="1.15" fill="none" />
<path d="M415.6,524.7 H439.0 V572.9 H415.6 Z" stroke="#111" stroke-width="1.2" fill="none" />
<path d="M439.0,524.7 L447.90000000000003,520.2 V577.6 L439.0,572.9" stroke="#111" stroke-width="1.1" fill="none" />
<path d="M423.40000000000003,528.9 L427.6,524.7 L431.8,528.9" stroke="#111" stroke-width="1.1" fill="none" />
<line x1="427.60" y1="524.70" x2="427.60" y2="543.50" stroke="#111" stroke-width="1.1"/>
<path d="M419.6,543.5 H435.20000000000005 V549.8 H419.6 Z" stroke="#111" stroke-width="1.2" fill="none" />
<line x1="424.40" y1="549.50" x2="430.80" y2="544.00" stroke="#111" stroke-width="1.1"/>
<line x1="427.60" y1="549.80" x2="427.60" y2="572.90" stroke="#111" stroke-width="1.1"/>
<path d="M423.40000000000003,568.9 L427.6,572.9 L431.8,568.9" stroke="#111" stroke-width="1.1" fill="none" />
<path d="M423.5,576.6 L427.6,580.6 L431.70000000000005,576.6" stroke="#111" stroke-width="1.15" fill="none" />
<text transform="translate(418.40,520.60) scale(0.8,1)" font-size="8.2" text-anchor="middle" fill="#111" stroke="#111" stroke-width="0.42">1</text>
<text transform="translate(418.00,582.50) scale(0.8,1)" font-size="8.2" text-anchor="middle" fill="#111" stroke="#111" stroke-width="0.42">2</text>
<text transform="translate(450.90,528.40) scale(0.805,1)" font-size="10.3" text-anchor="start" font-weight="bold" fill="#111" stroke="#111" stroke-width="0.34">RIGHT</text>
<text transform="translate(450.90,540.45) scale(0.805,1)" font-size="10.3" text-anchor="start" font-weight="bold" fill="#111" stroke="#111" stroke-width="0.34">FRONT</text>
<text transform="translate(450.90,552.50) scale(0.805,1)" font-size="10.3" text-anchor="start" font-weight="bold" fill="#111" stroke="#111" stroke-width="0.34">INSTRUMENT</text>
<text transform="translate(450.90,564.55) scale(0.805,1)" font-size="10.3" text-anchor="start" font-weight="bold" fill="#111" stroke="#111" stroke-width="0.34">PANEL</text>
<text transform="translate(450.90,576.60) scale(0.805,1)" font-size="10.3" text-anchor="start" font-weight="bold" fill="#111" stroke="#111" stroke-width="0.34">SPEAKER</text>
<text transform="translate(393.55,468.40) scale(0.815,1)" font-size="10.3" text-anchor="middle" font-weight="bold" fill="#111" stroke="#111" stroke-width="0.34">TWISTED</text>
<text transform="translate(393.55,480.20) scale(0.815,1)" font-size="10.3" text-anchor="middle" font-weight="bold" fill="#111" stroke="#111" stroke-width="0.34">PAIR</text>
<line x1="383.35" y1="484.50" x2="368.88" y2="491.02" stroke="#111" stroke-width="1.1"/>
<path d="M362.50,493.90 L367.69,488.38 L370.07,493.67 Z" stroke="#111" stroke-width="0.3" fill="#111" />
<line x1="403.75" y1="484.50" x2="418.69" y2="491.08" stroke="#111" stroke-width="1.1"/>
<path d="M425.10,493.90 L417.52,493.73 L419.86,488.43 Z" stroke="#111" stroke-width="0.3" fill="#111" />
<text transform="translate(19.20,685.20) scale(0.85,1)" font-size="8" text-anchor="start" fill="#111" stroke="#111" stroke-width="0.42">018W-16</text>
<text transform="translate(539.80,685.30) scale(0.85,1)" font-size="8" text-anchor="start" fill="#111" stroke="#111" stroke-width="0.42">JRD04706</text>
</svg>
</body></html>
